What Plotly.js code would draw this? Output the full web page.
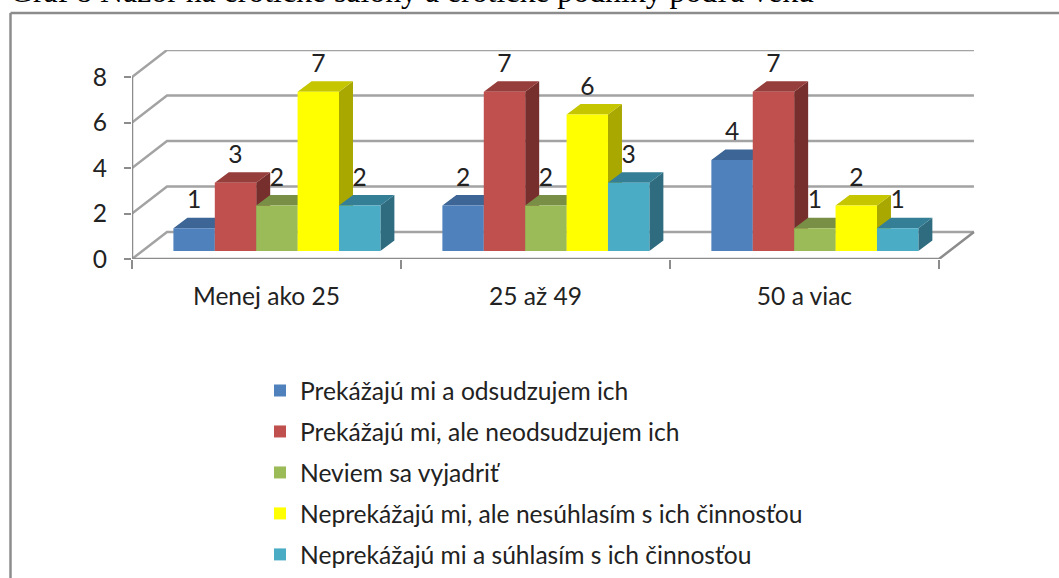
<!DOCTYPE html>
<html><head><meta charset="utf-8">
<script src="https://cdn.plot.ly/plotly-3.0.1.min.js"></script>
<style>html,body{margin:0;padding:0;background:#fff;overflow:hidden}</style></head>
<body><div id="chart" style="width:1059px;height:578px"></div>
<script>
const pageTitle = "Graf 8 Názor na erotické salóny a erotické podniky podľa veku";
const categories = ["Menej ako 25", "25 až 49", "50 a viac"];
const seriesNames = ["Prekážajú mi a odsudzujem ich", "Prekážajú mi, ale neodsudzujem ich", "Neviem sa vyjadriť", "Neprekážajú mi, ale nesúhlasím s ich činnosťou", "Neprekážajú mi a súhlasím s ich činnosťou"];
const prekazaOdsudzuje = [1, 2, 4];
const prekazaNeodsudzuje = [3, 7, 7];
const neviem = [2, 2, 1];
const neprekazaNesuhlasi = [7, 6, 2];
const neprekazaSuhlasi = [2, 3, 1];
const yTicks = [0, 2, 4, 6, 8];
const frontColors = ["#4F81BD", "#C0504D", "#9BBB59", "#FFFF00", "#4BACC6"];
const topColors = ["#3D6595", "#963E3B", "#788F45", "#C6C600", "#357F96"];
const sideColors = ["#2F4D71", "#772F2D", "#5E7036", "#A8A800", "#2F6C7F"];

const allSeries = [prekazaOdsudzuje, prekazaNeodsudzuje, neviem, neprekazaNesuhlasi, neprekazaSuhlasi];
const W = 1059, H = 578;
const pxX = 269, pxY = 22.75;
const xMin = -0.5, xMax = 2.634, yMax = 209 / pxY;
const wallDx = 35 / pxX, wallDy = 27 / pxY;
const barW = 41.4 / pxX, baseDx = 10.4 / pxX, baseY = 8 / pxY;
const depDx = 14 / pxX, depDy = 10.6 / pxY;
const grid = "#A3A3A3", axisC = "#8C8C8C", txt = "#222222", fontName = "Lato, Carlito, sans-serif";
const fs = 24.6;

const traces = [];
const gx = [], gy = [];
yTicks.forEach(v => { gx.push(xMin, xMin + wallDx, 2.5 + wallDx, null); gy.push(v, v + wallDy, v + wallDy, null); });
traces.push({type:"scatter", mode:"lines", x:gx, y:gy, line:{color:grid, width:2.5}, showlegend:false, hoverinfo:"skip", cliponaxis:false});
traces.push({type:"scatter", mode:"lines", x:[xMin, xMin, null, xMin, 2.5, 2.5 + wallDx], y:[8, 0, null, 0, 0, wallDy],
  line:{color:axisC, width:2.5}, showlegend:false, hoverinfo:"skip", cliponaxis:false});

allSeries.forEach((vals, s) => {
  const tx = [], ty = [], sx = [], sy = [];
  vals.forEach((v, g) => {
    const l = g + baseDx + (s - 2.5) * barW, r = l + barW, t = baseY + v;
    tx.push(l, r, r + depDx, l + depDx, l, null);
    ty.push(t, t, t + depDy, t + depDy, t, null);
    sx.push(r, r + depDx, r + depDx, r, r, null);
    sy.push(baseY, baseY + depDy, t + depDy, t, baseY, null);
  });
  traces.push({type:"scatter", mode:"lines", x:sx, y:sy, fill:"toself", fillcolor:sideColors[s], line:{width:0, color:sideColors[s]}, showlegend:false, hoverinfo:"skip"});
  traces.push({type:"scatter", mode:"lines", x:tx, y:ty, fill:"toself", fillcolor:topColors[s], line:{width:0, color:topColors[s]}, showlegend:false, hoverinfo:"skip"});
});
allSeries.forEach((vals, s) => {
  traces.push({type:"bar", name:seriesNames[s], legendgroup:"g"+s, xaxis:"x2", yaxis:"y2",
    x:vals.map((v, g) => g + baseDx + (s - 2) * barW), y:vals, base:vals.map(() => baseY),
    width:barW, marker:{color:frontColors[s], line:{width:0}}});
});
allSeries.forEach((vals, s) => {
  traces.push({type:"scatter", mode:"text", xaxis:"x2", yaxis:"y2", showlegend:false, hoverinfo:"skip", cliponaxis:false,
    x:vals.map((v, g) => g + baseDx + (s - 2) * barW), y:vals.map(v => v + baseY + 26 / pxY),
    text:vals.map(String), textposition:"middle center", textfont:{family:fontName, size:fs, color:txt}});
});

const layout = {
  width:W, height:H, autosize:false, margin:{l:0, r:0, t:0, b:0, pad:0},
  paper_bgcolor:"#fff", plot_bgcolor:"rgba(0,0,0,0)", barmode:"overlay", showlegend:true,
  font:{family:fontName, color:txt, size:fs},
  xaxis:{domain:[132 / W, 975 / W], range:[xMin, xMax], tickmode:"array", tickvals:[0, 1, 2], ticktext:categories,
    ticks:"", showgrid:false, zeroline:false, showline:false, ticklabelstandoff:20, automargin:false,
    tickfont:{family:fontName, size:fs, color:txt},
    minor:{tickmode:"array", tickvals:[-0.5, 0.5, 1.5, 2.5], ticks:"outside", ticklen:9, tickwidth:2, tickcolor:axisC, showgrid:false}},
  yaxis:{domain:[(H - 259) / H, (H - 50) / H], range:[0, yMax], tickmode:"array", tickvals:yTicks, ticks:"outside", ticklen:7, tickwidth:2,
    tickcolor:axisC, showgrid:false, zeroline:false, showline:false, ticklabelstandoff:12, automargin:false,
    tickfont:{family:fontName, size:fs, color:txt}},
  xaxis2:{overlaying:"x", anchor:"y2", range:[xMin, xMax], visible:false},
  yaxis2:{overlaying:"y", anchor:"x2", range:[0, yMax], visible:false},
  legend:{x:260 / W, xanchor:"left", y:1 - 368 / H, yanchor:"top", traceorder:"grouped", tracegroupgap:6, itemclick:false, itemdoubleclick:false,
    bgcolor:"rgba(0,0,0,0)", font:{family:fontName, size:fs, color:txt}},
  shapes:[
    {type:"line", xref:"paper", yref:"paper", x0:10.5 / W, x1:10.5 / W, y0:0, y1:1 - 13 / H, line:{color:"#8C8C8C", width:2.5}, layer:"below"},
    {type:"line", xref:"paper", yref:"paper", x0:10.5 / W, x1:1, y0:1 - 13 / H, y1:1 - 13 / H, line:{color:"#8C8C8C", width:2.5}, layer:"below"}],
  annotations:[{xref:"paper", yref:"paper", x:8 / W, y:1 - 11 / H, xanchor:"left", yanchor:"bottom", text:pageTitle, showarrow:false,
    font:{family:"Liberation Serif, serif", size:31.8, color:"#000"}}]
};
Plotly.newPlot("chart", traces, layout, {displayModeBar:false, responsive:false});
</script></body></html>
